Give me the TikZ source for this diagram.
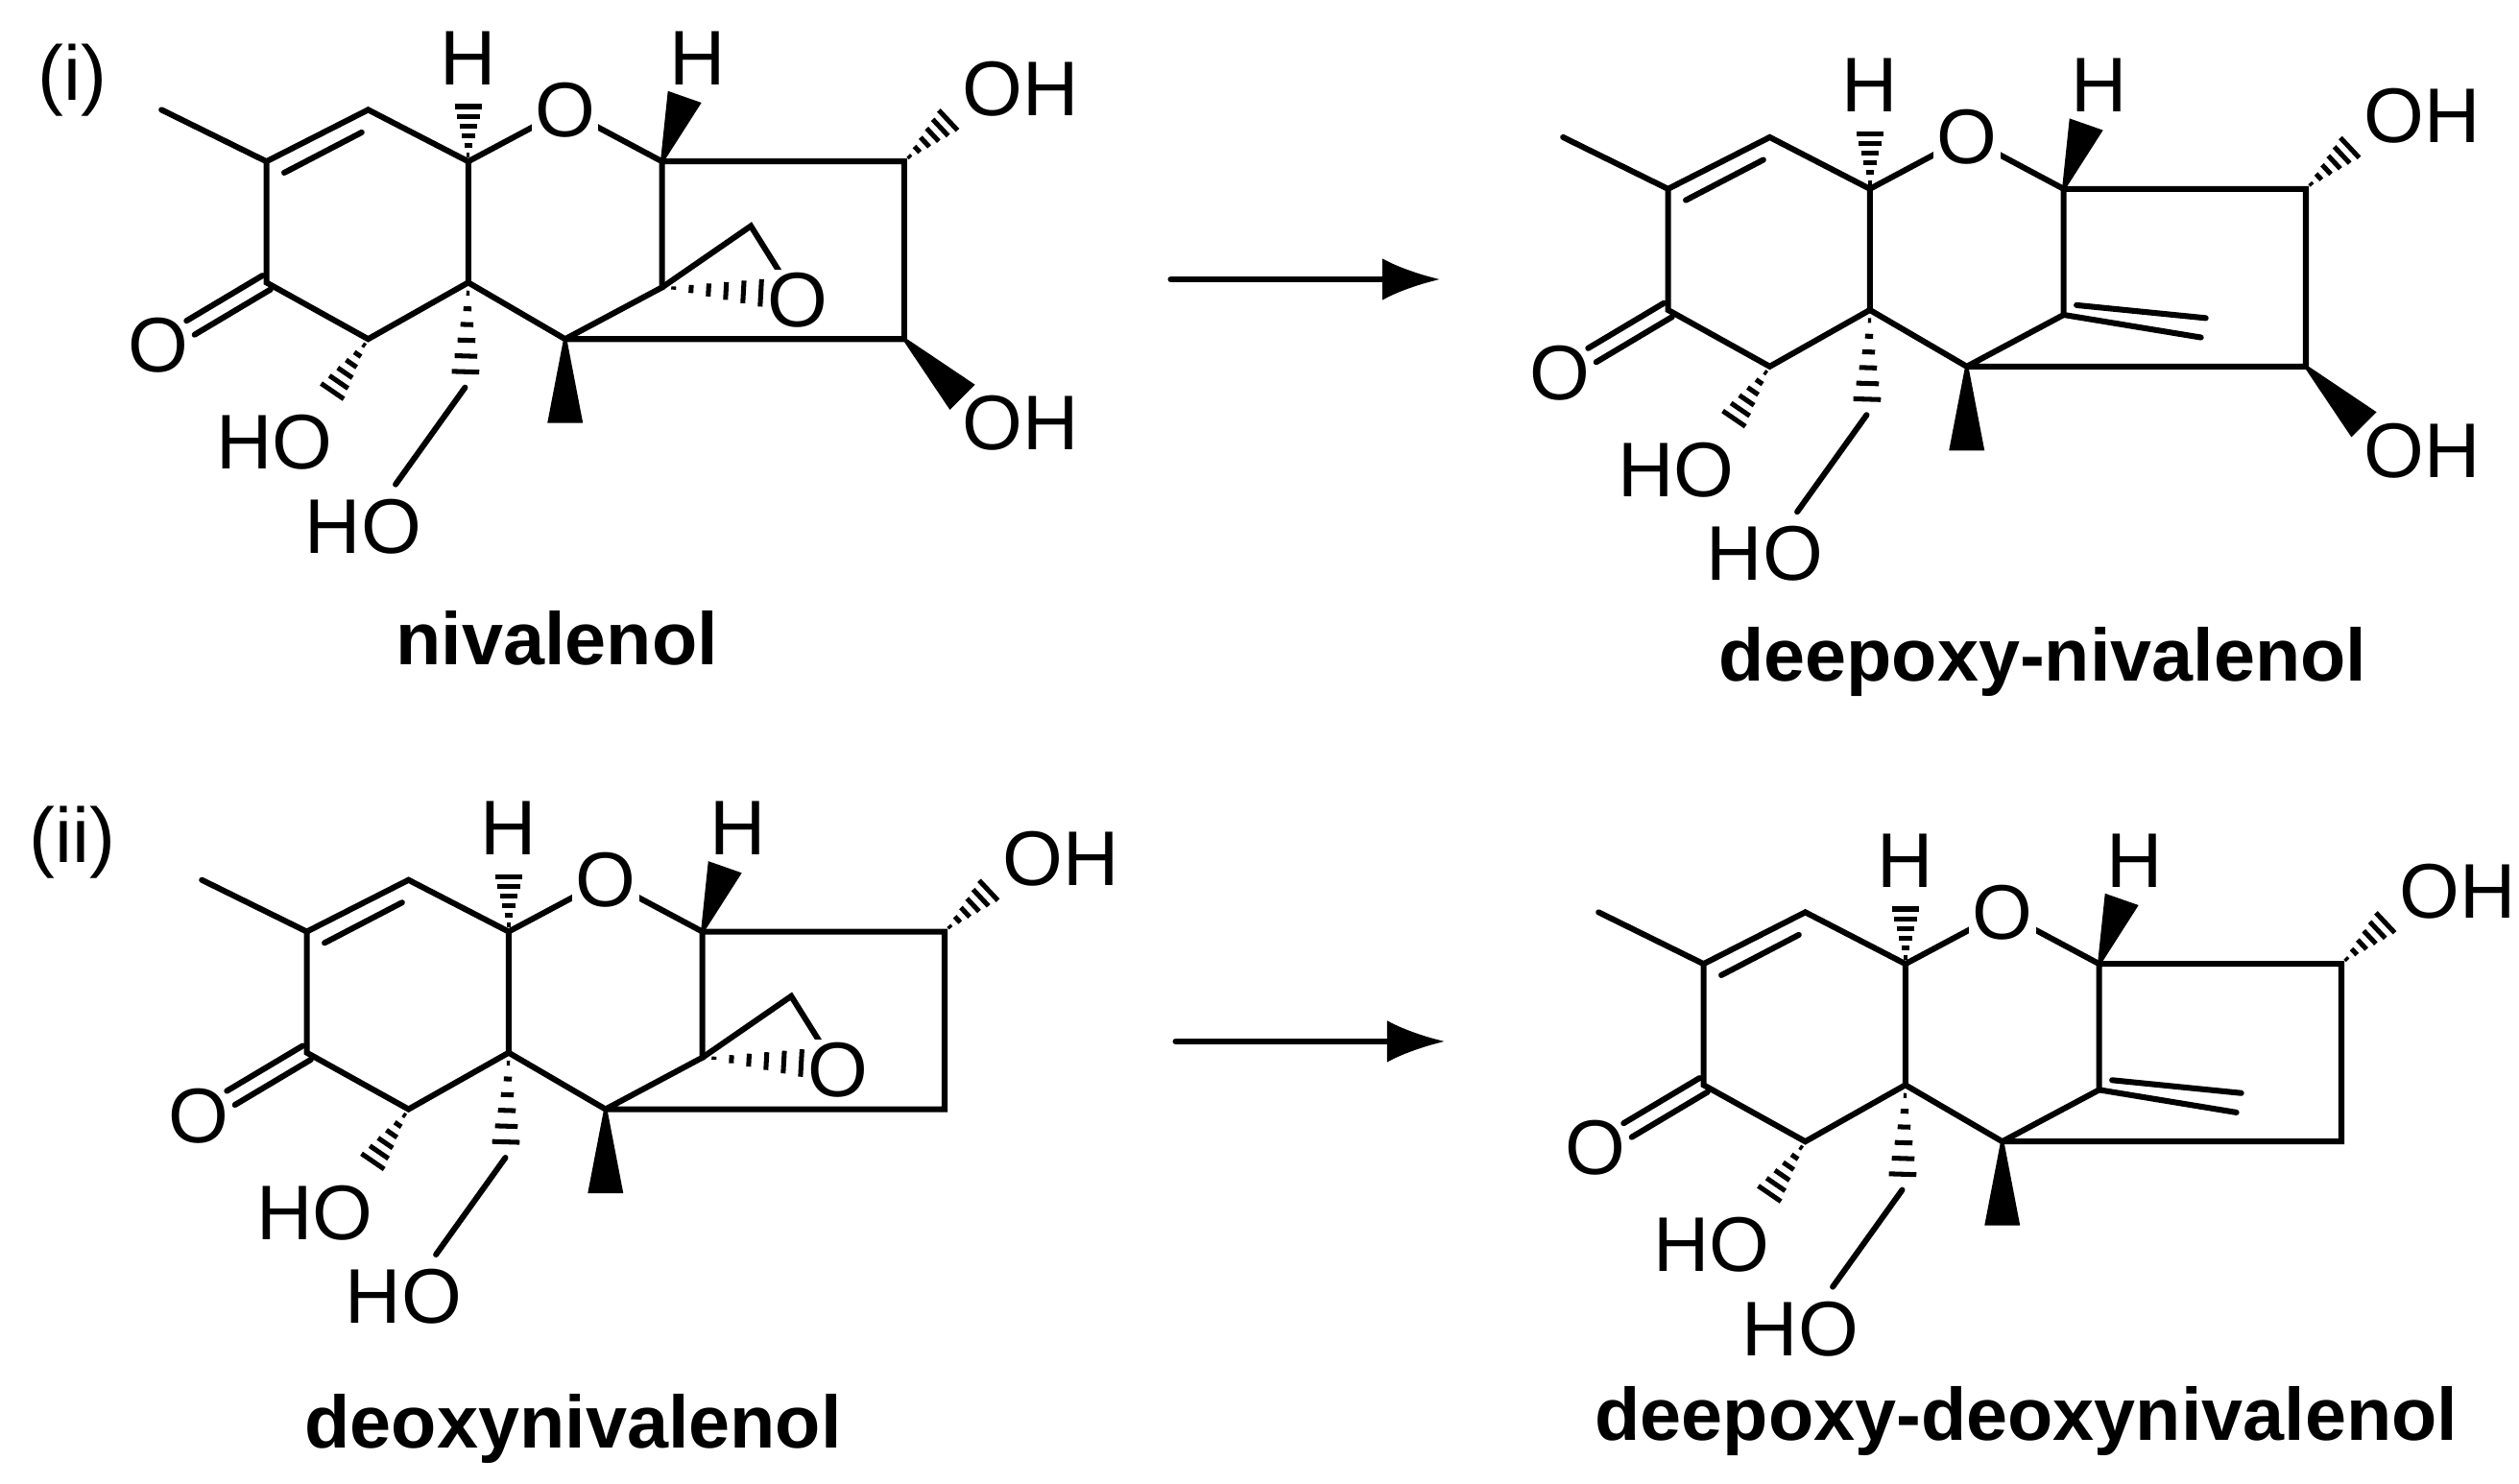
\documentclass[tikz,border=0pt]{standalone}
\usepackage{fontspec}
\setmainfont{Liberation Sans}
\usetikzlibrary{calc,arrows.meta}
\tikzset{bond/.style={line width=1.8pt,line cap=round},
 atomlbl/.style={font=\fontsize{24}{28}\selectfont,inner sep=1pt},
 ratomlbl/.style={atomlbl,fill=white},
 molname/.style={font=\fontsize{23}{27}\selectfont\bfseries}}
\newcommand\hashw[2]{\foreach \t in {0.1,0.25,0.4,0.55,0.7,0.85,1.0}{
  \coordinate (P) at ($(#1)!\t!(#2)$);
  \draw[line width=1.5pt] ($(P)!\t*5pt!90:(#2)$) -- ($(P)!\t*5pt!-90:(#2)$);}}
\newcommand\boldw[2]{\fill ($(#1)!0.5pt!90:(#2)$) -- ($(#2)!5.5pt!-90:(#1)$) -- ($(#2)!5.5pt!90:(#1)$) -- ($(#1)!0.5pt!-90:(#2)$) -- cycle;}
\newcommand\mol[2]{
 \coordinate (a) at (165,100); \coordinate (b) at (228,68); \coordinate (c) at (290,100);
 \coordinate (d) at (290,175); \coordinate (e) at (228,210); \coordinate (f) at (165,175);
 \coordinate (me) at (100,68); \coordinate (oc) at (118,203);
 \coordinate (ho1) at (202,248); \coordinate (ch2) at (288,240); \coordinate (ho2) at (245,300);
 \coordinate (hc) at (290,60); \coordinate (or) at (350,68); \coordinate (g) at (410,100);
 \coordinate (hg) at (424,60); \coordinate (i) at (350,210); \coordinate (j) at (560,100);
 \coordinate (k) at (560,210); \coordinate (h) at (410,178); \coordinate (mi) at (350,262);
 \coordinate (jo) at (592,70); \coordinate (ko) at (596,246); \coordinate (eo) at (482,182);
 \draw[bond] (me)--(a)--(b)--(c)--(d)--(e)--(f)--(a);
 \draw[bond] (176,107)--(224,82);
 \draw[bond] ($(f)+(2.5,4.3)$)--($(oc)+(2.5,4.3)$) ($(f)+(-2.5,-4.3)$)--($(oc)+(-2.5,-4.3)$);
 \draw[bond] (c)--(or)--(g)--(h)--(i)--(d) (g)--(j)--(k)--(i) (ch2)--(ho2);
 \hashw{e}{ho1} \hashw{d}{ch2} \hashw{c}{hc} \hashw{j}{jo}
 \boldw{g}{hg} \boldw{i}{mi}
 \ifnum#2=1 \boldw{k}{ko} \node[atomlbl] (oh2) at (632,262) {OH};\fi
 \ifnum#1=1
  \draw[bond] (h)--(465,140)--(490,180); \hashw{h}{eo}
  \node[ratomlbl] (oe) at (494,186) {O};
 \else
  \draw[bond] (h)--(495,192) (418,172)--(498,180);
 \fi
 \node[ratomlbl] (o1) at (or) {O};
 \node[atomlbl] (o2) at (98,214) {O};
 \node[atomlbl] (h1) at (290,36) {H};
 \node[atomlbl] (h2) at (432,36) {H};
 \node[atomlbl] (oh1) at (632,55) {OH};
 \node[atomlbl] (ho1t) at (170,274) {HO};
 \node[atomlbl] (ho2t) at (225,326) {HO};
}
\begin{document}
\begin{tikzpicture}[x=0.5pt,y=-0.5pt]
\useasboundingbox (0,0) rectangle (1560,919);
\node[atomlbl] (l1) at (45,50) {(i)};
\node[atomlbl] (l2) at (45,522) {(ii)};
\begin{scope}\mol{1}{1}\end{scope}
\begin{scope}[shift={(868,17)}]\mol{0}{1}\end{scope}
\begin{scope}[shift={(25,477)}]\mol{1}{0}\end{scope}
\begin{scope}[shift={(890,497)}]\mol{0}{0}\end{scope}
\node[molname] (n1) at (345,395) {nivalenol};
\node[molname] (n2) at (1265,410) {deepoxy-nivalenol};
\node[molname] (n3) at (355,885) {deoxynivalenol};
\node[molname] (n4) at (1255,880) {deepoxy-deoxynivalenol};
\coordinate (a1s) at (725,173); \coordinate (a1e) at (892,173);
\coordinate (a2s) at (728,645); \coordinate (a2e) at (895,645);
\draw[bond,-{Latex[length=18pt,width=13pt]}] (a1s)--(a1e);
\draw[bond,-{Latex[length=18pt,width=13pt]}] (a2s)--(a2e);
\end{tikzpicture}
\end{document}
